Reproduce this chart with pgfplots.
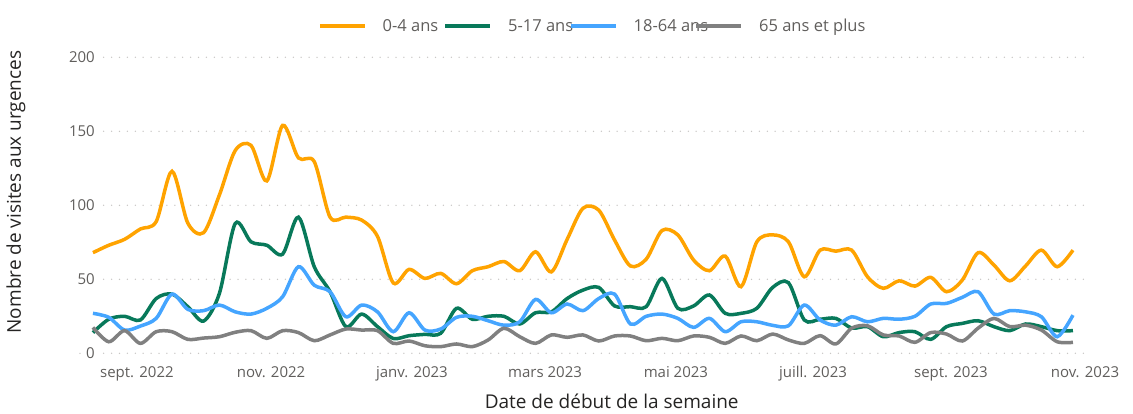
\documentclass[border=0pt]{standalone}
\usepackage{pgfplots}
\pgfplotsset{compat=1.18}
\usepackage{pgfplotstable}
\usepackage{fontspec}
\setmainfont{Open Sans}
\definecolor{cA}{HTML}{FFA300}
\definecolor{cB}{HTML}{08795A}
\definecolor{cC}{HTML}{45A5FF}
\definecolor{cD}{HTML}{808080}
\definecolor{tickgray}{HTML}{605E5C}
\definecolor{titlegray}{HTML}{252423}
\definecolor{gridgray}{HTML}{C8C6C4}
\pgfplotstableread{
k a b c d
0 68 14 27 17.5
1 73 23 24.3 7.8
2 77 25 15.7 15.3
3 84 22.5 18.4 6.7
4 89 37 23.6 14.6
5 123 40 40 14.6
6 88 31.5 29.7 9.4
7 81.5 21.8 28.8 10.3
8 107 40.5 32.6 11.2
9 137 87.7 28 14.2
10 140.5 75.3 26.5 15.3
11 116.5 73 30.4 10.1
12 154 67 38.2 15.3
13 132 92 58.5 14
14 129.5 58.5 46 8.5
15 92 41.6 41.6 12.4
16 92 18 24.7 16.4
17 90 26.5 32.6 15.7
18 79 18 28 15.3
19 47.5 10 14.6 6.7
20 56.7 11.9 27.4 8.3
21 50.6 12.8 15.7 5.1
22 54 13.5 16.4 4.5
23 47 30.4 24.3 6.3
24 55.8 23 25 4.5
25 58.5 25 22 9
26 62 25 19 16.9
27 55.8 19.8 21.3 11.2
28 68.6 27.4 36.4 6.7
29 55 28 27.4 12.4
30 77 37 33.3 10.8
31 98 42.7 28.8 12.4
32 96.7 44.5 37 8.3
33 76.5 32 40 11.7
34 59 31.5 19.8 11.7
35 63.6 31.5 25 8.5
36 83 50.6 26.5 10.1
37 80 30.4 23.6 8.5
38 63 32 17.5 11.7
39 55.8 39.4 23.6 10.8
40 65.7 27 14.6 6.7
41 45 27 21.3 11.7
42 75.3 30.4 21.3 8.5
43 80 44.5 18.9 13
44 75.3 47.7 18.6 9
45 51.7 22.5 32.6 6.7
46 69.7 23 22.5 11.9
47 69 23.6 19 6.3
48 69.7 17 24.7 17
49 51.7 18 21.3 18.6
50 43.9 11.2 23.6 12.4
51 49 14 23 11.7
52 45.4 14.6 25 7.4
53 51.3 9.4 33.3 14
54 41.6 18 33.7 13
55 49.5 20.2 37.8 8.3
56 68 22 41.6 17
57 59.6 18 26.5 23.6
58 49 15.3 28.8 18
59 59 19.8 28 19
60 69.7 18 24.7 15.7
61 58.5 15.3 11.2 7.8
62 69.7 15.3 25.8 7.4
}\data
\begin{document}
\begin{tikzpicture}
\path[use as bounding box] (0,0) rectangle (1133pt,414pt);
\begin{axis}[
  at={(80pt,60.7pt)}, anchor=south west,
  scale only axis, width=1007pt, height=296pt,
  xmin=-0.82, xmax=62.89, ymin=0, ymax=200,
  ytick={0,50,100,150,200},
  xtick={2.78,11.27,20.18,28.6,36.88,45.55,54.28,62.76},
  xticklabels={sept. 2022,nov. 2022,janv. 2023,mars 2023,mai 2023,juill. 2023,sept. 2023,nov. 2023},
  axis line style={draw=none},
  major tick length=0pt,
  ymajorgrids,
  major grid style={gridgray, line width=1.5pt, line cap=round, dash pattern=on 0pt off 7.9pt},
  clip=false,
  /pgf/number format/assume math mode=true,
  tick label style={font=\fontsize{15}{18}\selectfont, text=tickgray},
  xticklabel style={anchor=north, inner sep=0pt, text height=11pt, text depth=3pt, yshift=-12.7pt},
  yticklabel style={anchor=east, fill=white, inner xsep=4pt, inner ysep=1pt, xshift=19pt},
  label style={font=\fontsize{19}{23}\selectfont, text=titlegray},
  xlabel={Date de début de la semaine},
  xlabel style={at={(axis description cs:0.528,-0.161)}, anchor=center},
  ylabel={Nombre de visites aux urgences},
  ylabel style={at={(axis description cs:-0.0636,0.545)}, anchor=center},
  legend columns=4,
  legend style={draw=none, fill=none, at={(axis description cs:0.2363,1.106)}, anchor=west,
    inner sep=0pt, font=\fontsize{16.5}{20}\selectfont, text=tickgray,
    /tikz/every odd column/.style={column sep=16pt},
    /tikz/every even column/.style={column sep=0pt},
    nodes={inner sep=0pt}},
  legend image code/.code={\draw[#1] (0pt,0pt) -- (45pt,0pt);},
]
\addplot[cA, line width=3.5pt, smooth, tension=0.5] table[x=k,y=a]{\data};
\addlegendentry{\makebox[61pt][l]{0-4 ans}}
\addplot[cB, line width=3.5pt, smooth, tension=0.5] table[x=k,y=b]{\data};
\addlegendentry{\makebox[61pt][l]{5-17 ans}}
\addplot[cC, line width=3.5pt, smooth, tension=0.5] table[x=k,y=c]{\data};
\addlegendentry{\makebox[61pt][l]{18-64 ans}}
\addplot[cD, line width=3.5pt, smooth, tension=0.5] table[x=k,y=d]{\data};
\addlegendentry{\makebox[61pt][l]{65 ans et plus}}
\end{axis}
\end{tikzpicture}
\end{document}
